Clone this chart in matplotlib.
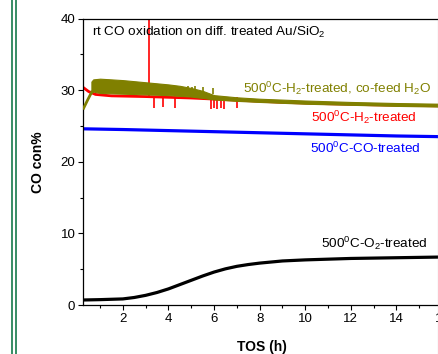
"""rt CO oxidation on differently treated Au/SiO2: CO conversion vs time on stream."""

import matplotlib
matplotlib.use("Agg")
import matplotlib.pyplot as plt
from matplotlib.lines import Line2D
from matplotlib.ticker import MultipleLocator

plt.rcParams["font.family"] = ["Liberation Sans", "DejaVu Sans"]
plt.rcParams["mathtext.fontset"] = "custom"
plt.rcParams["mathtext.rm"] = "Liberation Sans"

OLIVE = "#808000"

# 500C-O2-treated (black)
o2_x = [0.25, 1, 2, 2.5, 3, 3.5, 4, 4.5, 5, 5.5, 6, 6.5, 7, 7.5, 8, 9, 10, 11, 12, 13, 14, 15, 16]
o2_y = [0.7, 0.75, 0.85, 1.05, 1.35, 1.75, 2.25, 2.85, 3.45, 4.05, 4.6, 5.05, 5.4, 5.65, 5.85,
        6.15, 6.3, 6.4, 6.5, 6.55, 6.6, 6.65, 6.7]

# 500C-CO-treated (blue)
co_x = [0.25, 2, 4, 6, 8, 10, 12, 14, 16]
co_y = [24.6, 24.5, 24.35, 24.2, 24.05, 23.9, 23.75, 23.6, 23.5]

# 500C-H2-treated (red), baseline plus spikes
h2_x = [0.25, 0.5, 0.8, 1.5, 3.0, 5, 7, 9, 11, 13, 16]
h2_y = [30.4, 29.8, 29.4, 29.2, 29.1, 28.9, 28.6, 28.3, 28.1, 27.95, 27.8]
h2_up_x = [3.16]
h2_up_top = [42]
h2_dn_x = [3.35, 3.75, 4.3, 5.85, 6.0, 6.15, 6.3, 6.45, 7.0]
h2_dn_bot = [27.5, 27.6, 27.5, 27.4, 27.5, 27.4, 27.5, 27.4, 27.5]

# 500C-H2-treated, co-feed H2O (olive): initial rise then noisy band
h2o_rise_x = [0.25, 0.45, 0.66]
h2o_rise_y = [27.3, 28.6, 29.9]
h2o_x = [0.62, 0.7, 1, 2, 3, 4, 4.5, 5, 5.5, 6, 7, 8, 10, 12, 14, 16]
h2o_hi = [31.2, 31.5, 31.6, 31.4, 31.1, 30.8, 30.6, 30.3, 29.9, 29.3, 29.0, 28.8, 28.55, 28.35, 28.2, 28.1]
h2o_lo = [29.6, 29.8, 29.6, 29.5, 29.4, 29.3, 29.2, 29.1, 28.9, 28.7, 28.5, 28.35, 28.1, 27.95, 27.8, 27.7]
h2o_sp_x = [4.87, 5.02, 5.16, 5.52, 5.96]
h2o_sp_top = [30.6, 30.5, 30.6, 30.4, 30.3]


def main() -> None:
    fig = plt.figure(figsize=(4.39, 3.54), dpi=100)
    ax = fig.add_axes([0.189, 0.1384, 0.818, 0.8093])

    ax.plot(o2_x, o2_y, color="black", lw=2.3, solid_capstyle="butt")
    ax.plot(co_x, co_y, color="#0000ff", lw=2.3, solid_capstyle="butt")

    ax.plot(h2_x, h2_y, color="#ff0000", lw=2.0, solid_capstyle="butt", zorder=2)
    ax.vlines(h2_up_x, 29.2, h2_up_top, color="#ff0000", lw=1.2, zorder=2)
    ax.vlines(h2_dn_x, h2_dn_bot, 29.0, color="#ff0000", lw=1.2, zorder=2)

    ax.plot(h2o_rise_x, h2o_rise_y, color=OLIVE, lw=2.0, solid_capstyle="butt", zorder=3)
    ax.fill_between(h2o_x, h2o_lo, h2o_hi, color=OLIVE, lw=0.8, zorder=3)
    ax.vlines(h2o_sp_x, 29.5, h2o_sp_top, color=OLIVE, lw=1.2, zorder=3)

    ax.set_xlim(0.25, 16)
    ax.set_ylim(0, 40)
    ax.xaxis.set_major_locator(MultipleLocator(2))
    ax.xaxis.set_minor_locator(MultipleLocator(1))
    ax.yaxis.set_major_locator(MultipleLocator(10))
    ax.yaxis.set_minor_locator(MultipleLocator(5))
    ax.tick_params(which="major", direction="out", length=3.5, width=0.8, labelsize=9.5, pad=2)
    ax.tick_params(which="minor", direction="out", length=2, width=0.8)
    for sp in ax.spines.values():
        sp.set_linewidth(0.9)

    ax.set_xlabel("TOS (h)", fontsize=10, fontweight="bold")
    ax.set_ylabel("CO con%", fontsize=10, fontweight="bold")
    ax.xaxis.set_label_coords(0.498, -0.122)
    ax.yaxis.set_label_coords(-0.106, 0.5)

    fs = 9.7
    ax.text(0.64, 38.0, "rt CO oxidation on diff. treated Au/SiO$_2$", fontsize=fs, ha="left", va="center")
    ax.text(15.5, 30.2, "500$^0$C-H$_2$-treated, co-feed H$_2$O", color=OLIVE, fontsize=fs,
            ha="right", va="center")
    ax.text(14.9, 26.2, "500$^0$C-H$_2$-treated", color="#ff0000", fontsize=fs, ha="right", va="center")
    ax.text(15.07, 21.9, "500$^0$C-CO-treated", color="#0000ff", fontsize=fs, ha="right", va="center")
    ax.text(15.34, 8.6, "500$^0$C-O$_2$-treated", color="black", fontsize=fs, ha="right", va="center")

    # page decorations: double green rule on the left, grey crop line on the right
    for xp in (11.8 / 439, 15.8 / 439):
        fig.add_artist(Line2D([xp, xp], [0, 1], transform=fig.transFigure, color="#157a4a", lw=1.2))
    fig.add_artist(Line2D([438.3 / 439] * 2, [0, 0.95], transform=fig.transFigure, color="#999999", lw=0.8))

    fig.savefig("out.png", dpi=100)
    plt.close(fig)


if __name__ == "__main__":
    main()
